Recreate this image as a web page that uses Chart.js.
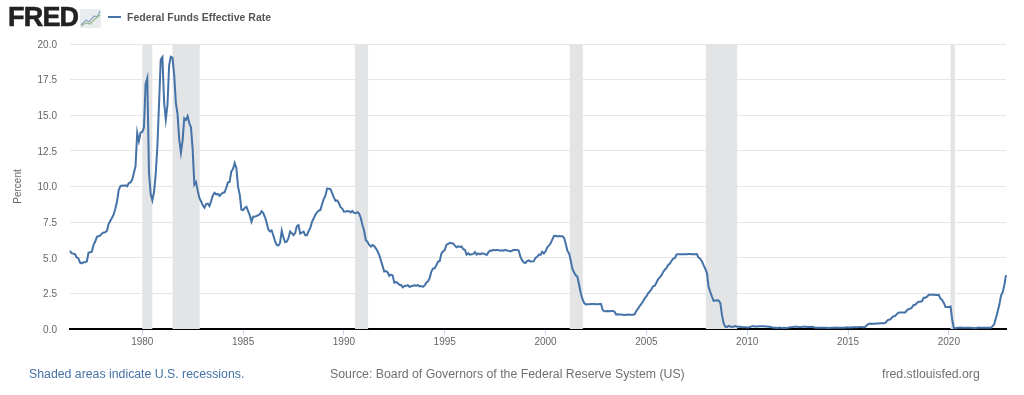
<!DOCTYPE html>
<html>
<head>
<meta charset="utf-8">
<style>
  html, body { margin: 0; padding: 0; background: #fff; width: 1024px; height: 395px; overflow: hidden; }
  #wrap { position: relative; width: 1024px; height: 395px; font-family: "Liberation Sans", Arial, sans-serif; }
  #wrap div, #wrap svg { position: absolute; white-space: nowrap; }
  canvas { position: absolute; left: 0; top: 0; }
  #logo { left: 8px; top: 2px; font-size: 27px; line-height: 30px; font-weight: bold; color: #222; letter-spacing: -.8px; -webkit-text-stroke: .6px #222; }
  #legendLine { left: 108px; top: 16px; width: 13px; height: 2px; background: #4572a7; }
  #legendText { left: 127px; top: 11px; font-size: 10.5px; line-height: 13px; font-weight: bold; color: #555; }
  .foot { top: 367px; font-size: 12.3px; line-height: 15px; color: #707070; }
</style>
<script src="https://cdn.jsdelivr.net/npm/chart.js@4"></script>
</head>
<body>
<div id="wrap">
  <canvas id="chart" width="1024" height="395"></canvas>
  <div id="logo">FRED</div>
  <svg style="left:80px;top:9px" width="21" height="19" viewBox="0 0 21 19">
    <rect width="21" height="19" fill="#e9edf0"/>
    <polyline points="1,16 6,11 9,13 14,7 17,8 20,2" fill="none" stroke="#8aa5c4" stroke-width="1.2"/>
    <polyline points="1,17 6,14 10,15 15,10 20,6" fill="none" stroke="#9ab58a" stroke-width="1.2"/>
  </svg>
  <div id="legendLine"></div>
  <div id="legendText">Federal Funds Effective Rate</div>
  <div class="foot" style="left:29px;color:#4572a7">Shaded areas indicate U.S. recessions.</div>
  <div class="foot" style="left:330px">Source: Board of Governors of the Federal Reserve System (US)</div>
  <div class="foot" style="left:882px">fred.stlouisfed.org</div>
</div>
<script>
const startYear = 1976 + 5 / 12; // first reading is June 1976, monthly after that
const rates1970s = [
  5.48,5.31,5.29,5.25,5.02,4.95,4.65,
  4.61,4.68,4.69,4.73,5.35,5.39,5.42,5.90,6.14,6.47,6.51,6.56,
  6.70,6.78,6.79,6.89,7.36,7.60,7.81,8.04,8.45,8.96,9.76,10.03,
  10.07,10.06,10.09,10.01,10.24,10.29,10.47,10.94,11.43,13.77,13.18,13.78
];
const rates1980s = [
  13.82,14.13,17.19,17.61,10.98,9.47,9.03,9.61,10.87,12.81,15.85,18.90,
  19.08,15.93,14.70,15.72,18.52,19.10,19.04,17.82,15.87,15.08,13.31,12.37,
  13.22,14.78,14.68,14.94,14.45,14.15,12.59,10.12,10.31,9.71,9.20,8.95,
  8.68,8.51,8.77,8.80,8.63,8.98,9.37,9.56,9.45,9.48,9.34,9.47,
  9.56,9.59,9.91,10.29,10.32,11.06,11.23,11.64,11.30,9.99,9.43,8.38,
  8.35,8.50,8.58,8.27,7.97,7.53,7.88,7.90,7.92,7.99,8.05,8.27,
  8.14,7.86,7.48,6.99,6.85,6.92,6.56,6.17,5.89,5.85,6.04,6.91,
  6.43,6.10,6.13,6.37,6.85,6.73,6.58,6.73,7.22,7.29,6.69,6.77,
  6.83,6.58,6.58,6.87,7.09,7.51,7.75,8.01,8.19,8.30,8.35,8.76,
  9.12,9.36,9.85,9.84,9.81,9.53,9.24,8.99,9.02,8.84,8.55,8.45
];
const rates1990s = [
  8.23,8.24,8.28,8.26,8.18,8.29,8.15,8.13,8.20,8.11,7.81,7.31,
  6.91,6.25,6.12,5.91,5.78,5.90,5.82,5.66,5.45,5.21,4.81,4.43,
  4.03,4.06,3.98,3.73,3.82,3.76,3.25,3.30,3.22,3.10,3.09,2.92,
  3.02,3.03,3.07,2.96,3.00,3.04,3.06,3.03,3.09,2.99,3.02,2.96,
  3.05,3.25,3.34,3.56,4.01,4.25,4.26,4.47,4.73,4.76,5.29,5.45,
  5.53,5.92,5.98,6.05,6.01,6.00,5.85,5.74,5.80,5.76,5.80,5.60,
  5.56,5.22,5.31,5.22,5.24,5.27,5.40,5.22,5.30,5.24,5.31,5.29,
  5.25,5.19,5.39,5.51,5.50,5.56,5.52,5.54,5.54,5.50,5.52,5.50,
  5.56,5.51,5.49,5.45,5.49,5.56,5.54,5.55,5.51,5.07,4.83,4.68,
  4.63,4.76,4.81,4.74,4.74,4.76,4.99,5.07,5.22,5.20,5.42,5.30
];
const rates2000s = [
  5.45,5.73,5.85,6.02,6.27,6.53,6.54,6.50,6.52,6.51,6.51,6.40,
  5.98,5.49,5.31,4.80,4.21,3.97,3.77,3.65,3.07,2.49,2.09,1.82,
  1.73,1.74,1.73,1.75,1.75,1.75,1.73,1.74,1.75,1.75,1.34,1.24,
  1.24,1.26,1.25,1.26,1.26,1.22,1.01,1.03,1.01,1.01,1.00,0.98,
  1.00,1.01,1.00,1.00,1.00,1.03,1.26,1.43,1.61,1.76,1.93,2.16,
  2.28,2.50,2.63,2.79,3.00,3.04,3.26,3.50,3.62,3.78,4.00,4.16,
  4.29,4.49,4.59,4.79,4.94,4.99,5.24,5.25,5.25,5.25,5.25,5.24,
  5.25,5.26,5.26,5.25,5.25,5.25,5.26,5.02,4.94,4.76,4.49,4.24,
  3.94,2.98,2.61,2.28,1.98,2.00,2.01,2.00,1.81,0.97,0.39,0.16,
  0.15,0.22,0.18,0.15,0.18,0.21,0.16,0.16,0.15,0.12,0.12,0.12
];
const rates2010s = [
  0.11,0.13,0.16,0.20,0.20,0.18,0.18,0.19,0.19,0.19,0.19,0.18,
  0.17,0.16,0.14,0.10,0.09,0.09,0.07,0.10,0.08,0.07,0.08,0.07,
  0.08,0.10,0.13,0.14,0.16,0.16,0.16,0.13,0.14,0.16,0.16,0.16,
  0.14,0.15,0.14,0.15,0.11,0.09,0.09,0.08,0.08,0.09,0.08,0.09,
  0.07,0.07,0.08,0.09,0.09,0.10,0.09,0.09,0.09,0.09,0.09,0.12,
  0.11,0.11,0.11,0.12,0.12,0.13,0.13,0.14,0.14,0.12,0.12,0.24,
  0.34,0.38,0.36,0.37,0.37,0.38,0.39,0.40,0.40,0.40,0.41,0.54,
  0.65,0.66,0.79,0.90,0.91,1.04,1.15,1.16,1.15,1.15,1.16,1.30,
  1.41,1.42,1.51,1.69,1.70,1.82,1.91,1.91,1.95,2.19,2.20,2.27,
  2.40,2.40,2.41,2.42,2.39,2.38,2.40,2.13,2.04,1.83,1.55,1.55
];
const rates2020s = [
  1.55,1.58,0.65,0.05,0.05,0.08,0.09,0.10,0.09,0.09,0.09,0.09,
  0.09,0.08,0.07,0.07,0.06,0.08,0.10,0.09,0.08,0.08,0.08,0.08,
  0.08,0.08,0.20,0.33,0.77,1.21,1.68,2.33,2.56,3.08,3.78
];
const tickYears = [1980,1985,1990,1995,2000,2005,2010,2015,2020];
const recessionStarts = [1980.0,1981.5,1990.55,2001.2,2007.95,2020.08];
const recessionEnds = [1980.5,1982.85,1991.2,2001.85,2009.5,2020.3];

const rates = [].concat(rates1970s, rates1980s, rates1990s, rates2000s, rates2010s, rates2020s);
const points = rates.map((v, i) => ({ x: startYear + i / 12, y: v }));

const recessionBands = {
  id: 'recessionBands',
  beforeDatasetsDraw(chart){
    const { ctx, chartArea, scales } = chart;
    ctx.save();
    ctx.fillStyle = '#e3e4e6';
    recessionStarts.forEach((s, i) => {
      const x0 = scales.x.getPixelForValue(s);
      const x1 = scales.x.getPixelForValue(recessionEnds[i]);
      ctx.fillRect(x0, chartArea.top, x1 - x0, chartArea.bottom - chartArea.top);
    });
    ctx.restore();
  }
};

Chart.defaults.font.family = '"Liberation Sans", Arial, sans-serif';

new Chart(document.getElementById('chart'), {
  type: 'line',
  data: {
    datasets: [{
      label: 'Federal Funds Effective Rate',
      data: points,
      borderColor: '#4572a7',
      borderWidth: 2,
      pointRadius: 0,
      tension: 0,
      clip: false
    }]
  },
  options: {
    responsive: false,
    animation: false,
    layout: { padding: { top: 44, right: 18, left: 0, bottom: 0 } },
    plugins: { legend: { display: false }, tooltip: { enabled: false } },
    scales: {
      x: {
        type: 'linear',
        min: startYear,
        max: 2022 + 10 / 12,
        afterBuildTicks(axis){ axis.ticks = tickYears.map(v => ({ value: v })); },
        afterFit(axis){ axis.height = 66; },
        grid: { drawOnChartArea: false, drawTicks: true, tickLength: 6, color: '#ccd6eb' },
        border: { display: true, color: '#000', width: 2 },
        ticks: {
          autoSkip: false,
          maxRotation: 0,
          padding: 1,
          color: '#666',
          font: { size: 10 },
          callback: v => String(v)
        }
      },
      y: {
        min: 0,
        max: 20,
        afterFit(axis){ axis.width = 70; },
        grid: { drawTicks: false, color: '#e6e6e6', lineWidth: 1 },
        border: { display: false },
        title: { display: true, text: 'Percent', color: '#666', font: { size: 10 }, padding: { top: 12, bottom: 0 } },
        ticks: {
          stepSize: 2.5,
          padding: 13,
          labelOffset: 1,
          color: '#666',
          font: { size: 10 },
          callback: v => v.toFixed(1)
        }
      }
    }
  },
  plugins: [recessionBands]
});
</script>
</body>
</html>
